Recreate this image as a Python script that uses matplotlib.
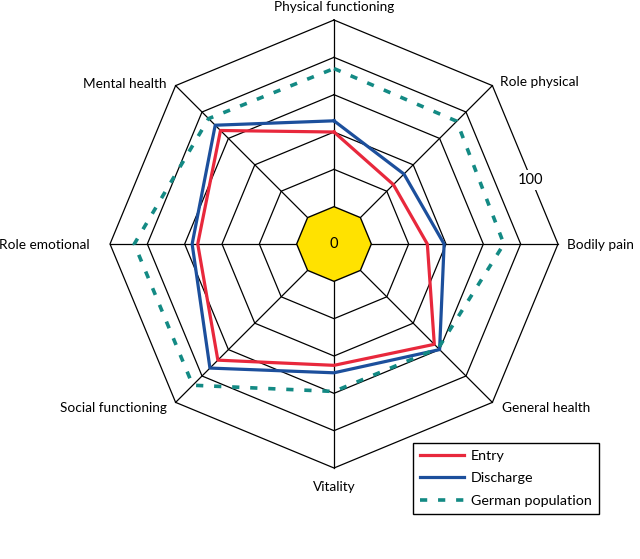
import numpy as np
import matplotlib.pyplot as plt

# SF-36 scales, clockwise from the top
categories = ['Physical functioning', 'Role physical', 'Bodily pain', 'General health',
              'Vitality', 'Social functioning', 'Role emotional', 'Mental health']
entry = [40, 25, 30, 56, 45, 68, 53, 66]
discharge = [46, 33, 39, 60, 49, 74, 56, 70]
german = [74, 73, 71, 59, 59, 87, 87, 75]
rings = [0, 20, 40, 60, 80, 100]

plt.rcParams['font.family'] = ['Lato', 'DejaVu Sans']
plt.rcParams['font.size'] = 9.8

n = len(categories)
theta = np.linspace(0, 2 * np.pi, n, endpoint=False)
theta_c = np.append(theta, theta[0])


def closed(vals):
    return np.append(vals, vals[0])


fig = plt.figure(figsize=(6.4, 5.59), dpi=100)
ax = fig.add_axes([0.171875, 0.1628, 0.7, 0.8014], projection='polar')
ax.set_theta_offset(np.pi / 2)
ax.set_theta_direction(-1)
ax.set_ylim(0, 100)
ax.set_rorigin(-20)
ax.grid(False)
ax.set_xticks([])
ax.set_yticks([])
# polar axes resets spine visibility on draw, so make them transparent instead
for s in ax.spines.values():
    s.set_edgecolor('none')
ax.patch.set_visible(False)

# yellow centre (score 0)
ax.fill(theta_c, closed(np.zeros(n)), facecolor='#ffe200', edgecolor='black',
        lw=1.0, zorder=2, clip_on=False)

# octagon rings and spokes
for r in rings[1:]:
    ax.plot(theta_c, closed(np.full(n, r)), color='black', lw=0.9, zorder=1, clip_on=False)
for t in theta:
    ax.plot([t, t], [0, 100], color='black', lw=0.9, zorder=1, clip_on=False)

ax.plot(theta_c, closed(entry), color='#e8283c', lw=2.3, zorder=3, clip_on=False, label='Entry')
ax.plot(theta_c, closed(discharge), color='#1c4f9c', lw=2.3, zorder=4, clip_on=False, label='Discharge')
ax.plot(theta_c, closed(german), color='#138a84', lw=2.6, ls=(0, (2, 3.0)), zorder=5,
        clip_on=False, label='German population')

# category labels next to the outer vertices
offsets = [(0, 13, 'center'), (8, 4, 'left'), (9, -1, 'left'), (10, -6, 'left'),
           (0, -19, 'center'), (-9, -6, 'right'), (-20, -1, 'right'), (-9, 2, 'right')]
for t, lab, (dx, dy, ha) in zip(theta, categories, offsets):
    ax.annotate(lab, xy=(t, 100), xytext=(dx, dy), textcoords='offset pixels',
                ha=ha, va='center', annotation_clip=False)

ax.text(0, -20, '0', ha='center', va='center', fontsize=10.5, zorder=6)
ax.text(np.deg2rad(72), 90.5, '100', ha='center', va='center', fontsize=10.5, zorder=6,
        bbox=dict(facecolor='white', edgecolor='none', pad=2))

leg = fig.legend(loc='upper left', bbox_to_anchor=(0.645, 0.2075), borderaxespad=0,
                 fancybox=False, edgecolor='black', framealpha=1, handlelength=3.1,
                 handletextpad=0.45, labelspacing=0.72, borderpad=0.5, fontsize=10.3)
leg.get_frame().set_linewidth(1.0)

fig.savefig('out.png', dpi=100)
